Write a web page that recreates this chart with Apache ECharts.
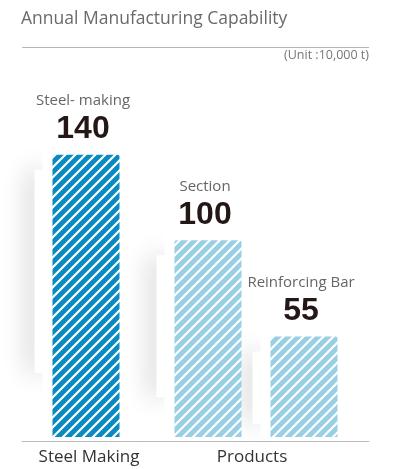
<!DOCTYPE html>
<html>
<head>
<meta charset="utf-8">
<script src="https://cdn.jsdelivr.net/npm/echarts@6/dist/echarts.min.js"></script>
<style>
html,body{margin:0;padding:0;background:#fff;}
#chart{width:405px;height:469px;}
</style>
</head>
<body>
<div id="chart"></div>
<script>
// ---- data ----
const titleText = 'Annual Manufacturing Capability';
const unitText = '(Unit :10,000 t)';
const categories = ['Steel Making', 'Products'];
const itemNames = ['Steel- making', 'Section', 'Reinforcing Bar'];
const itemValues = [140, 100, 55];
const itemGroup = [0, 1, 1]; // index into categories

// ---- layout / style constants ----
const FONT = '"Open Sans", "Noto Sans", sans-serif';
const NUM_FONT = '"Liberation Sans", "Open Sans", sans-serif';
const BAR_W = 67;
const GAP = 29;
const Y_MIN = 8, Y_MAX = 160;
const DARK = '#0a8ac3';
const LIGHT = '#98cfe5';

function hatch(color) {
  const n = 10;
  const c = document.createElement('canvas');
  c.width = n; c.height = n;
  const ctx = c.getContext('2d');
  ctx.fillStyle = color;
  ctx.fillRect(0, 0, n, n);
  ctx.strokeStyle = '#fff';
  ctx.lineWidth = 2.2;
  ctx.beginPath();
  ctx.moveTo(-1, n + 1); ctx.lineTo(n + 1, -1);
  ctx.moveTo(-n / 2 - 1, n / 2 + 1); ctx.lineTo(n / 2 + 1, -n / 2 - 1);
  ctx.moveTo(n / 2 - 1, 1.5 * n + 1); ctx.lineTo(1.5 * n + 1, n / 2 - 1);
  ctx.stroke();
  return { image: c, repeat: 'repeat' };
}
const darkPattern = hatch(DARK);
const lightPattern = hatch(LIGHT);

const chart = echarts.init(document.getElementById('chart'), null, { renderer: 'canvas' });

const grids = [
  { left: 22, width: 128, top: 112, bottom: 32 },
  { left: 143, right: 36, top: 112, bottom: 32 }
];
const xAxes = categories.map((c, gi) => ({
  type: 'category', gridIndex: gi, data: [c], offset: 4,
  axisLine: { show: true, lineStyle: { color: '#bbbbbb', width: 1 } },
  axisTick: { show: false },
  axisLabel: {
    fontFamily: FONT, fontSize: 17, color: '#333', margin: 8,
    padding: gi === 0 ? [0, 0, 0, 6] : [0, 8, 0, 0]
  }
}));
const yAxes = categories.map((c, gi) => ({
  type: 'value', gridIndex: gi, min: Y_MIN, max: Y_MAX, show: false
}));

const series = [];
// shadow "cards" behind bars
categories.forEach((c, gi) => {
  const idxs = itemValues.map((v, i) => i).filter(i => itemGroup[i] === gi);
  const count = idxs.length;
  series.push({
    type: 'custom', xAxisIndex: gi, yAxisIndex: gi, silent: true, z: 1,
    data: idxs.map(i => [0, itemValues[i]]),
    renderItem: function (params, api) {
      const v = api.value(1);
      const topPt = api.coord([0, v]);
      const basePt = api.coord([0, Y_MIN]);
      const off = (params.dataIndex - (count - 1) / 2) * (BAR_W + GAP);
      const left = topPt[0] + off - BAR_W / 2;
      const h = basePt[1] - topPt[1];
      return {
        type: 'group',
        children: [
          {
            type: 'rect',
            shape: { x: left - 18, y: topPt[1] + 15, width: 14, height: h * 0.72 },
            style: { fill: '#fff', shadowBlur: 26, shadowColor: 'rgba(0,0,0,0.2)', shadowOffsetX: -6 }
          },
          {
            type: 'rect',
            shape: { x: left - 10, y: topPt[1] - 10, width: BAR_W + 20, height: h + 10 },
            style: { fill: '#fff' }
          }
        ]
      };
    }
  });
});
// bars
itemValues.forEach((v, i) => {
  series.push({
    type: 'bar', name: itemNames[i], xAxisIndex: itemGroup[i], yAxisIndex: itemGroup[i],
    data: [v], barWidth: BAR_W, barGap: (GAP / BAR_W * 100).toFixed(1) + '%', z: 2,
    itemStyle: { color: i === 0 ? darkPattern : lightPattern, borderRadius: [2, 2, 0, 0] },
    label: {
      show: true, position: 'top', distance: 8, offset: [-3, 0],
      formatter: p => '{n|' + p.seriesName + '}\n{v|' + p.value + '}',
      rich: {
        n: { fontFamily: FONT, fontSize: 15, color: '#666', lineHeight: 22 },
        v: { fontFamily: NUM_FONT, fontSize: 32, fontWeight: 'bold', color: '#231815', lineHeight: 35 }
      }
    }
  });
});

chart.setOption({
  animation: false,
  backgroundColor: '#fff',
  title: [
    { text: titleText, left: 21, top: 10, padding: 0, textStyle: { fontFamily: FONT, fontSize: 17.5, fontWeight: 'normal', color: '#6a6a6a' } },
    { text: unitText, right: 36, top: 49, padding: 0, textStyle: { fontFamily: FONT, fontSize: 12.5, fontWeight: 'normal', color: '#777' } }
  ],
  graphic: [
    { type: 'line', shape: { x1: 22, y1: 47.5, x2: 369, y2: 47.5 }, style: { stroke: '#b5b5b5', lineWidth: 1 } }
  ],
  grid: grids,
  xAxis: xAxes,
  yAxis: yAxes,
  series: series
});
</script>
</body>
</html>
